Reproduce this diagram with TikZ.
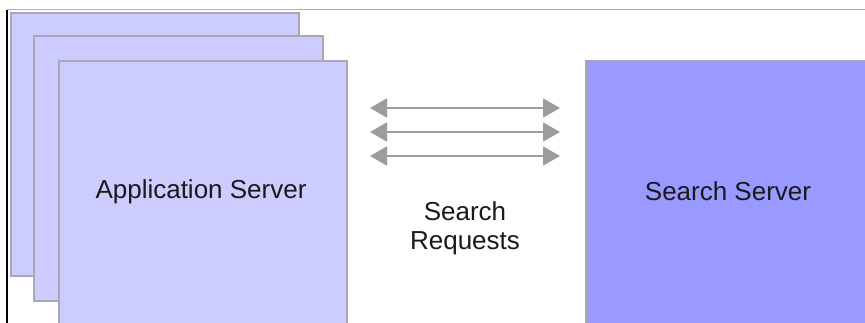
\documentclass[tikz,border=0pt]{standalone}
\usepackage{fontspec}
\setmainfont{Liberation Sans}
\usetikzlibrary{arrows.meta}
\definecolor{appfill}{HTML}{CCCCFF}
\definecolor{srvfill}{HTML}{9999FF}
\definecolor{boxedge}{HTML}{A8A8B4}
\definecolor{arrgray}{HTML}{9C9C9C}
\definecolor{txt}{HTML}{1A1A1A}
\tikzset{
  appbox/.style={draw=boxedge, line width=1.6pt, fill=appfill, rectangle, inner sep=0pt, anchor=north west},
  srvbox/.style={draw=boxedge, line width=1.6pt, fill=srvfill, rectangle, inner sep=0pt, anchor=north west},
  lbl/.style={font=\fontsize{26}{29}\selectfont, text=txt, align=center, inner sep=0pt},
  req/.style={draw=arrgray, line width=1.8pt, {Triangle[length=17pt,width=19pt]}-{Triangle[length=17pt,width=19pt]}}
}
\begin{document}
\begin{tikzpicture}[x=1pt,y=-1pt]
\useasboundingbox (0,0) rectangle (865,322);
\clip (0,0) rectangle (865,322);
\fill[white] (0,0) rectangle (865,322);
% frame lines of the screenshot
\coordinate (tl) at (7,9.5);
\coordinate (tr) at (866,9.5);
\coordinate (bl) at (7,323);
\draw[color={rgb,255:red,176;green,176;blue,176}, line width=1pt] (tl) -- (tr);
\draw[black, line width=1.2pt] (7,10) -- (bl);
% stacked application servers
\node[appbox, minimum width=288pt, minimum height=263pt] (app3) at (10,12) {};
\node[appbox, minimum width=289pt, minimum height=265pt] (app2) at (33,35) {};
\node[appbox, minimum width=288pt, minimum height=280pt] (app1) at (58,60) {};
\node[lbl] (apptext) at (201,192) {Application Server};
% search server
\node[srvbox, minimum width=300pt, minimum height=280pt] (srv) at (585,60) {};
\node[lbl] (srvtext) at (728,191) {Search Server};
% request arrows
\coordinate (a1l) at (370,108); \coordinate (a1r) at (560,108);
\coordinate (a2l) at (370,132); \coordinate (a2r) at (560,132);
\coordinate (a3l) at (370,156); \coordinate (a3r) at (560,156);
\draw[req] (a1l) -- (a1r);
\draw[req] (a2l) -- (a2r);
\draw[req] (a3l) -- (a3r);
\node[lbl] (reqtext) at (465,228.5) {Search\\Requests};
\end{tikzpicture}
\end{document}
